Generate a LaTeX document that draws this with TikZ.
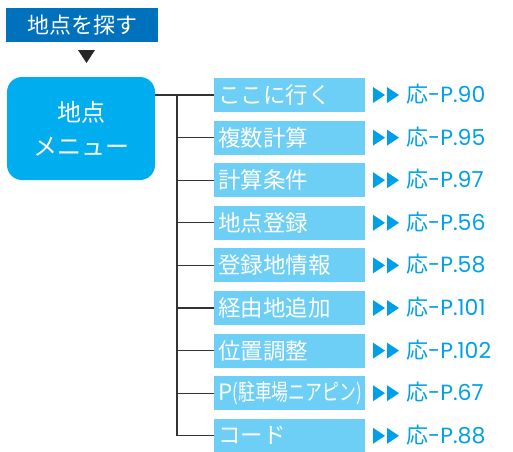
\documentclass[tikz,border=0pt]{standalone}
\usepackage{fontspec}
\setmainfont{Noto Sans CJK JP}
\newfontfamily\pagefont{Poppins}

\definecolor{titleblue}{HTML}{0071BC}
\definecolor{menublue}{HTML}{00AEEF}
\definecolor{itemblue}{HTML}{6DCFF6}
\definecolor{refblue}{HTML}{00A0E9}

\tikzset{
	titlebox/.style={fill=titleblue, text=white, minimum width=152pt, minimum height=34pt, inner sep=0pt, font=\fontsize{22}{24}\selectfont},
	menubox/.style={fill=menublue, text=white, rounded corners=15pt, minimum width=148pt, minimum height=103pt, align=center, font=\fontsize{24}{34}\selectfont},
	itembox/.style={fill=itemblue, text=white, minimum width=151pt, minimum height=34pt, inner xsep=4pt, text width=143pt, align=left, anchor=west, font=\fontsize{22.5}{24}\selectfont},
	reftext/.style={text=refblue, anchor=west, inner sep=0pt, text height=16pt, text depth=1pt, font=\fontsize{22}{24}\selectfont},
	branch/.style={draw=black!80, line width=1.1pt},
}

\begin{document}
\begin{tikzpicture}[x=1pt,y=-1pt]
	\useasboundingbox (0,0) rectangle (513,451);
	\node [titlebox] (title) at (82,25) {地点を探す};
	\fill [black!85] (78,50) -- (95,50) -- (86.5,63) -- cycle;
	\node [menubox] (menu) at (81,128.5) {地点\\メニュー};
	\coordinate (fork) at (177,95);
	\foreach \lbl/\pg [count=\i] in {
		ここに行く/90, 複数計算/95, 計算条件/97, 地点登録/56, 登録地情報/58,
		経由地追加/101, 位置調整/102, {P\scalebox{0.75}[1]{(駐車場ニアピン)}}/67, コード/88}
	{
		\node [itembox] (item\i) at (214,{95+42.6*(\i-1)}) {\lbl};
		\fill [refblue] (373,{87+42.6*(\i-1)}) -- (385,{95+42.6*(\i-1)}) -- (373,{103+42.6*(\i-1)}) -- cycle;
		\fill [refblue] (387,{87+42.6*(\i-1)}) -- (399,{95+42.6*(\i-1)}) -- (387,{103+42.6*(\i-1)}) -- cycle;
		\node [reftext] (ref\i) at (406,{95+42.6*(\i-1)}) {応{\pagefont -P.\pg}};
		\draw [branch] (fork) |- (item\i.west);
	}
	\draw [branch] (menu.east |- item1) -- (item1.west);
\end{tikzpicture}
\end{document}
